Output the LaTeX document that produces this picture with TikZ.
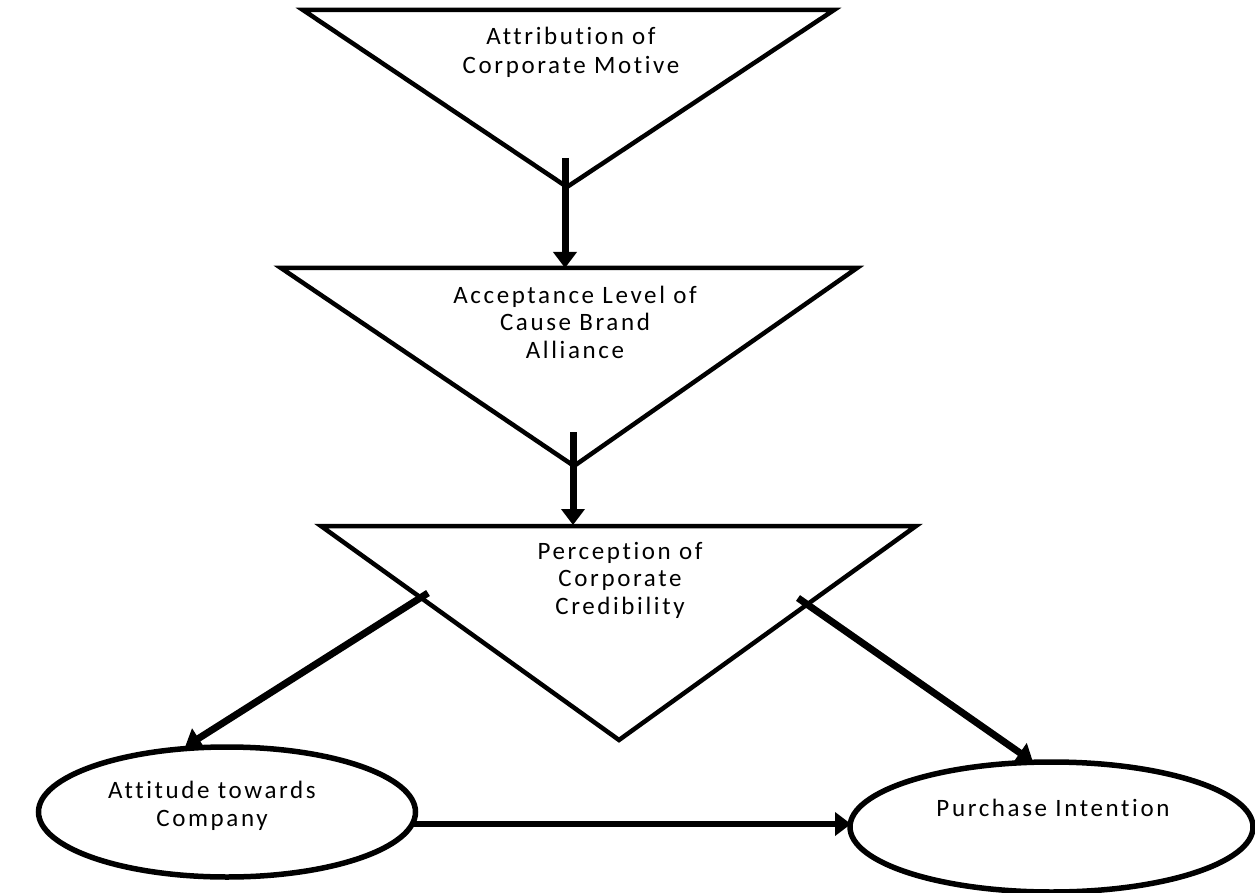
\documentclass[tikz,border=0pt]{standalone}
\usepackage{fontspec}
\setmainfont{Carlito}
\newfontfamily\fB[LetterSpace=10.5,Ligatures=NoCommon]{Carlito}
\usetikzlibrary{arrows.meta,shapes.geometric}
\tikzset{
  tri/.style={draw=black,line width=4.5pt,line join=miter},
  oval/.style={draw=black,line width=5.5pt,ellipse,inner sep=0pt},
  arr/.style={line width=7pt,-{Triangle[length=16pt,width=23pt]}},
  txtB/.style={inner sep=0pt,align=center,font=\fB\fontsize{25}{27.5}\selectfont}
}
\begin{document}
\begin{tikzpicture}[x=1pt,y=-1pt]
\useasboundingbox (0,0) rectangle (1255,893);
% triangle vertices
\coordinate (t1a) at (303,10); \coordinate (t1b) at (834,10); \coordinate (t1c) at (567,187);
\coordinate (t2a) at (281,268); \coordinate (t2b) at (857,268); \coordinate (t2c) at (574,466);
\coordinate (t3a) at (321,526); \coordinate (t3b) at (916,526); \coordinate (t3c) at (619,740);
\draw[tri] (t1a) -- (t1b) -- (t1c) -- cycle;
\draw[tri] (t2a) -- (t2b) -- (t2c) -- cycle;
\draw[tri] (t3a) -- (t3b) -- (t3c) -- cycle;
% texts
\node[txtB,font=\fB\fontsize{25}{29}\selectfont] (l1) at (571,52) {Attribution of\\Corporate Motive};
\node[txtB] (l2) at (575,322) {Acceptance Level of\\Cause Brand\\Alliance};
\node[txtB] (l3) at (620,580) {Perception of\\Corporate\\Credibility};
% ellipses
\node[oval,minimum width=377pt,minimum height=130pt] (att) at (227,812) {};
\node[oval,minimum width=403pt,minimum height=130pt] (pur) at (1051.5,827) {};
\node[txtB] (l4) at (212,806) {Attitude towards\\Company};
\node[txtB] (l5) at (1053,807.5) {Purchase Intention};
% connector ends
\coordinate (a1s) at (565,158); \coordinate (a1e) at (565,268);
\coordinate (a2s) at (573,432); \coordinate (a2e) at (573,525);
\coordinate (a3s) at (428,593); \coordinate (a3e) at (185,747);
\coordinate (a4s) at (798,598); \coordinate (a4e) at (1033,762);
\coordinate (a5s) at (414,824); \coordinate (a5e) at (851,824);
\draw[arr] (a1s) -- (a1e);
\draw[arr] (a2s) -- (a2e);
\draw[arr] (a3s) -- (a3e);
\draw[arr] (a4s) -- (a4e);
\draw[arr,line width=6pt] (a5s) -- (a5e);
\end{tikzpicture}
\end{document}
